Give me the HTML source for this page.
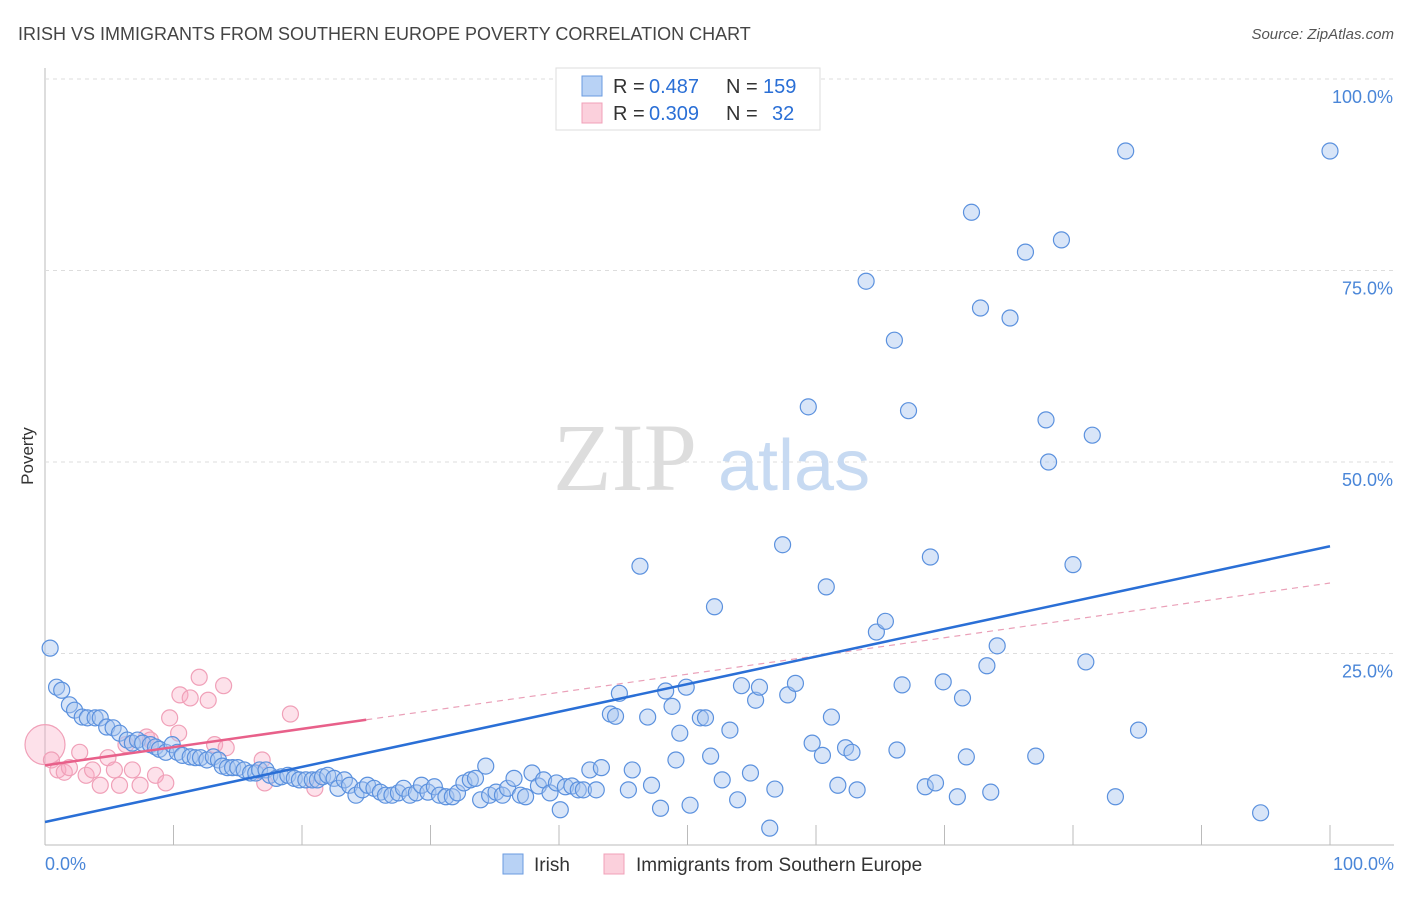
<!DOCTYPE html>
<html><head><meta charset="utf-8"><style>
body{margin:0;background:#fff;font-family:"Liberation Sans",sans-serif;}
svg text{font-family:"Liberation Sans",sans-serif;}
</style></head><body>
<svg width="1406" height="892">
<text x="18" y="40" font-size="18" fill="#444">IRISH VS IMMIGRANTS FROM SOUTHERN EUROPE POVERTY CORRELATION CHART</text>
<text x="1394" y="39" font-size="15" fill="#555" font-style="italic" text-anchor="end">Source: ZipAtlas.com</text>
<text x="33" y="456" font-size="17" fill="#333" transform="rotate(-90 33 456)" text-anchor="middle">Poverty</text>
<g id="grid"></g>
<text x="553" y="490" font-size="96" fill="#ddd" style="font-family:'Liberation Serif',serif">ZIP</text>
<text x="718" y="490" font-size="72" fill="#c7daf2">atlas</text>
<g id="pts"></g>
<g id="lines"></g>
<g>
<rect x="556" y="68" width="264" height="62" fill="#fff" stroke="#ddd"/>
<rect x="582" y="76" width="20" height="20" fill="#b8d2f5" stroke="#6a9be0"/>
<text y="93" font-size="20" fill="#333"><tspan x="613">R =</tspan><tspan x="649" fill="#2a6fd6">0.487</tspan><tspan x="726">N =</tspan><tspan x="763" fill="#2a6fd6">159</tspan></text>
<rect x="582" y="103" width="20" height="20" fill="#fbd0dc" stroke="#f0a0b8"/>
<text y="120" font-size="20" fill="#333"><tspan x="613">R =</tspan><tspan x="649" fill="#2a6fd6">0.309</tspan><tspan x="726">N =</tspan><tspan x="772" fill="#2a6fd6">32</tspan></text>
</g>
<g>
<rect x="503" y="854" width="20" height="20" fill="#b8d2f5" stroke="#6a9be0"/>
<text x="534" y="871" font-size="19" fill="#333">Irish</text>
<rect x="604" y="854" width="20" height="20" fill="#fbd0dc" stroke="#f0a0b8"/>
<text x="636" y="871" font-size="19" fill="#333">Immigrants from Southern Europe</text>
</g>
</svg>
<script>
const yTicks=[25,50,75,100];
const xTickVals=[0,10,20,30,40,50,60,70,80,90,100];
const blueX=[0.4,0.9,1.3,1.9,2.3,2.9,3.3,3.9,4.3,4.8,5.3,5.8,6.4,6.8,7.2,7.6,8.2,8.6,8.9,9.4,9.9,10.3,10.7,11.3,11.7,12.1,12.6,13.1,13.5,13.8,14.2,14.6,15.0,15.5,16.0,16.4,16.7,17.2,17.5,18.0,18.4,18.9,19.4,19.8,20.3,20.8,21.2,21.6,22.0,22.5,22.8,23.3,23.7,24.2,24.7,25.1,25.6,26.1,26.5,27.0,27.5,27.9,28.4,28.9,29.3,29.8,30.3,30.7,31.2,31.7,32.1,32.6,33.1,33.5,33.9,34.3,34.6,35.1,35.6,36.0,36.5,37.0,37.4,37.9,38.4,38.8,39.3,39.8,40.1,40.5,41.0,41.5,41.9,42.4,42.9,43.3,44.7,44.0,44.4,45.4,45.7,46.3,46.9,47.2,47.9,48.3,48.8,49.1,49.4,49.9,50.2,51.0,51.4,51.8,52.1,52.7,53.3,53.9,54.2,54.9,55.3,55.6,56.4,56.8,57.4,57.8,58.4,59.4,59.7,60.5,60.8,61.2,61.7,62.3,62.8,63.2,63.9,64.7,65.4,66.1,66.3,66.7,67.2,68.5,68.9,69.3,69.9,71.0,71.4,71.7,72.1,72.8,73.3,73.6,74.1,75.1,76.3,77.1,77.9,78.1,79.1,80.0,81.0,81.5,83.3,84.1,85.1,94.6,100.0];
const blueY=[25.7,20.6,20.2,18.3,17.6,16.7,16.6,16.6,16.6,15.4,15.3,14.6,13.7,13.3,13.7,13.3,13.1,12.8,12.5,12.1,13.1,12.1,11.7,11.5,11.4,11.4,11.1,11.5,11.1,10.3,10.1,10.1,10.1,9.8,9.4,9.4,9.8,9.8,9.1,8.7,8.9,9.1,8.7,8.5,8.5,8.5,8.5,8.9,9.1,8.7,7.4,8.5,7.8,6.5,7.2,7.8,7.4,6.9,6.5,6.5,6.8,7.4,6.5,6.8,7.8,6.9,7.6,6.5,6.3,6.3,6.8,8.1,8.5,8.7,5.9,10.3,6.5,6.9,6.5,7.4,8.7,6.5,6.3,9.4,7.7,8.5,6.8,8.1,4.6,7.6,7.7,7.2,7.2,9.8,7.2,10.1,19.8,17.1,16.8,7.2,9.8,36.4,16.7,7.8,4.8,20.1,18.1,11.1,14.6,20.6,5.2,16.6,16.6,11.6,31.1,8.5,15.0,5.9,20.8,9.4,18.9,20.6,2.2,7.3,39.2,19.6,21.1,57.2,13.3,11.7,33.7,16.7,7.8,12.7,12.1,7.2,73.6,27.8,29.2,65.9,12.4,20.9,56.7,7.6,37.6,8.1,21.3,6.3,19.2,11.5,82.6,70.1,23.4,6.9,26.0,68.8,77.4,11.6,55.5,50.0,79.0,36.6,23.9,53.5,6.3,90.6,15.0,4.2,90.6];
const pinkX=[0,0.5,1.0,1.5,1.9,2.7,3.2,3.7,4.3,4.9,5.4,5.8,6.3,6.8,7.4,7.9,8.2,8.6,9.4,9.7,10.4,10.5,11.3,12.0,12.7,13.2,13.9,14.1,16.9,17.1,19.1,21.0];
const pinkY=[13.1,11.1,9.8,9.5,10.1,12.1,9.1,9.8,7.8,11.4,9.8,7.8,13.1,9.8,7.8,14.1,13.7,9.1,8.1,16.6,14.6,19.6,19.2,21.9,18.9,13.1,20.8,12.7,11.1,8.1,17.1,7.4];
const blueFit=[3.0,39.0];
const pinkFit=[10.4,34.2];
const X=v=>45+v*12.85, Y=v=>845-v*7.66;
const NS='http://www.w3.org/2000/svg';
function mk(t,a,p){const e=document.createElementNS(NS,t);for(const k in a)e.setAttribute(k,a[k]);p.appendChild(e);return e;}
const grid=document.getElementById('grid');
mk('line',{x1:45,y1:68,x2:45,y2:845,stroke:'#bbb'},grid);
mk('line',{x1:45,y1:845,x2:1394,y2:845,stroke:'#bbb'},grid);
yTicks.forEach(t=>{
  const l=mk('line',{x1:45,y1:Y(t),x2:1394,y2:Y(t),stroke:'#ddd','stroke-dasharray':'4,4'},grid);
  
  
  const tx=mk('text',{x:1393,y:Y(t)+24,'font-size':18,fill:'#4a86d8','text-anchor':'end'},grid);
  tx.textContent=t.toFixed(1)+'%';
  
  
});
xTickVals.forEach(t=>{
  if(t>0){const l=mk('line',{x1:X(t),y1:825,x2:X(t),y2:845,stroke:'#bbb'},grid);
  
  }
});
const xl0=mk('text',{x:45,y:870,'font-size':18,fill:'#4a86d8'},grid);xl0.textContent='0.0%';


const xl1=mk('text',{x:1394,y:870,'font-size':18,fill:'#4a86d8','text-anchor':'end'},grid);xl1.textContent='100.0%';


const pts=document.getElementById('pts');
pinkX.forEach((x,i)=>{
  const c=mk('circle',{cx:X(x),cy:Y(pinkY[i]),r:i===0?20:8,fill:'rgba(248,170,195,0.35)',stroke:'#f0a0b8','stroke-width':1.2},pts);
  
  
});
blueX.forEach((x,i)=>{
  const c=mk('circle',{cx:X(x),cy:Y(blueY[i]),r:8,fill:'rgba(168,198,240,0.45)',stroke:'#5b91de','stroke-width':1.2},pts);
  
  
});
const ln=document.getElementById('lines');
const pf=x=>pinkFit[0]+(pinkFit[1]-pinkFit[0])*x/100;
const a=mk('line',{x1:X(0),y1:Y(pf(0)),x2:X(25),y2:Y(pf(25)),stroke:'#e8608a','stroke-width':2.5},ln);


const b=mk('line',{x1:X(25),y1:Y(pf(25)),x2:X(100),y2:Y(pf(100)),stroke:'#eaa0b8','stroke-width':1.2,'stroke-dasharray':'6,5'},ln);


const c=mk('line',{x1:X(0),y1:Y(blueFit[0]),x2:X(100),y2:Y(blueFit[1]),stroke:'#2a6fd6','stroke-width':2.5},ln);


</script>
</body></html>
